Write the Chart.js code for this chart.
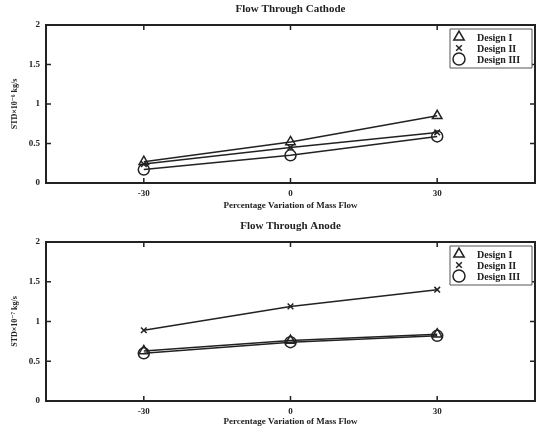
<!DOCTYPE html>
<html>
<head>
<meta charset="utf-8">
<script src="https://cdn.jsdelivr.net/npm/chart.js@4/dist/chart.umd.min.js"></script>
<style>
  html, body { margin: 0; padding: 0; background: #fff; overflow: hidden; }
  canvas { display: block; }
</style>
</head>
<body>
<canvas id="cathode" width="537" height="215"></canvas>
<canvas id="anode" width="537" height="215"></canvas>
<script>
// data
const variation = [-30, 0, 30];
const seriesNames = ["Design I", "Design II", "Design III"];
const markerStyles = ["triangle", "crossRot", "circle"];

const cathodeI = [0.27, 0.52, 0.85];
const cathodeII = [0.24, 0.45, 0.64];
const cathodeIII = [0.17, 0.35, 0.59];

const anodeI = [0.63, 0.76, 0.84];
const anodeII = [0.89, 1.19, 1.40];
const anodeIII = [0.60, 0.74, 0.82];

const yTicks = [0, 0.5, 1, 1.5, 2];

const FONT = "'Liberation Serif', 'DejaVu Serif', serif";

// frame, inward ticks, title and boxed legend (matlab look)
const framePlugin = {
  id: "frame",
  afterDraw(chart, args, opts) {
    const ctx = chart.ctx;
    const a = chart.chartArea;
    const xs = chart.scales.x, ys = chart.scales.y;
    ctx.save();
    ctx.strokeStyle = "#222";
    ctx.lineWidth = 2;
    ctx.strokeRect(a.left, a.top, a.right - a.left, a.bottom - a.top);
    ctx.lineWidth = 1.5;
    ctx.beginPath();
    variation.forEach(v => {
      const px = xs.getPixelForValue(v);
      ctx.moveTo(px, a.bottom); ctx.lineTo(px, a.bottom - 5);
      ctx.moveTo(px, a.top); ctx.lineTo(px, a.top + 5);
    });
    yTicks.forEach(v => {
      const py = ys.getPixelForValue(v);
      ctx.moveTo(a.left, py); ctx.lineTo(a.left + 5, py);
      ctx.moveTo(a.right, py); ctx.lineTo(a.right - 5, py);
    });
    ctx.stroke();

    // title
    ctx.fillStyle = "#222";
    ctx.font = "bold 11px " + FONT;
    ctx.textAlign = "center";
    ctx.textBaseline = "middle";
    ctx.fillText(opts.title, (a.left + a.right) / 2, opts.titleY);

    // legend box
    const lx = a.right - 85, ly = a.top + 4;
    ctx.lineWidth = 1;
    ctx.strokeStyle = "#555";
    ctx.fillStyle = "#fff";
    ctx.beginPath();
    ctx.rect(lx, ly, 82, 39);
    ctx.fill();
    ctx.stroke();
    ctx.strokeStyle = "#222";
    ctx.lineWidth = 1.5;
    chart.data.datasets.forEach((ds, i) => {
      const cy = ly + 8 + i * 11;
      ctx.fillStyle = "#fff";
      Chart.helpers.drawPoint(ctx, {
        pointStyle: ds.pointStyle,
        radius: ds.pointStyle === "crossRot" ? 4 : 6,
        borderWidth: 1.5
      }, lx + 9, cy);
      ctx.fillStyle = "#222";
      ctx.font = "bold 10px " + FONT;
      ctx.textAlign = "left";
      ctx.fillText(ds.label, lx + 27, cy + 1);
    });
    ctx.restore();
  }
};

function makeChart(id, values, title, titleY, yTitle, xHeight, padBottom) {
  const datasets = values.map((vals, i) => ({
    label: seriesNames[i],
    data: variation.map((x, j) => ({ x: x, y: vals[j] })),
    showLine: true,
    borderColor: "#222",
    backgroundColor: "rgba(0,0,0,0)",
    borderWidth: 1.5,
    pointStyle: markerStyles[i],
    pointRadius: markerStyles[i] === "crossRot" ? 4 : 5.5,
    pointBorderWidth: 1.5,
    pointBorderColor: "#222",
    pointBackgroundColor: "rgba(0,0,0,0)"
  }));

  return new Chart(document.getElementById(id), {
    type: "scatter",
    data: { datasets: datasets },
    plugins: [framePlugin],
    options: {
      responsive: false,
      animation: false,
      layout: {
        autoPadding: false,
        padding: { top: titleY + 16, right: 2, left: 0, bottom: padBottom }
      },
      plugins: {
        legend: { display: false },
        tooltip: { enabled: false },
        frame: { title: title, titleY: titleY }
      },
      scales: {
        x: {
          type: "linear",
          min: -50, max: 50,
          afterBuildTicks: s => { s.ticks = variation.map(v => ({ value: v })); },
          grid: { display: false, drawTicks: false, tickLength: 0 },
          border: { display: false },
          ticks: {
            color: "#222", padding: 5,
            font: { family: FONT, size: 9, weight: "bold" }
          },
          title: {
            display: true, text: "Percentage Variation of Mass Flow",
            color: "#222", padding: { top: 0, bottom: 0 },
            font: { family: FONT, size: 9, weight: "bold" }
          },
          afterFit: s => { s.height = xHeight; }
        },
        y: {
          min: 0, max: 2,
          afterBuildTicks: s => { s.ticks = yTicks.map(v => ({ value: v })); },
          grid: { display: false, drawTicks: false, tickLength: 0 },
          border: { display: false },
          ticks: {
            color: "#222", padding: 6,
            font: { family: FONT, size: 9, weight: "bold" },
            callback: v => String(v)
          },
          title: {
            display: true, text: yTitle,
            color: "#222", padding: { top: 10, bottom: 0 },
            font: { family: FONT, size: 8, weight: "bold" }
          },
          afterFit: s => { s.width = 46; }
        }
      }
    }
  });
}

makeChart("cathode", [cathodeI, cathodeII, cathodeIII],
  "Flow Through Cathode", 9, "STD×10\u207B\u2076 kg/s", 28, 4);
makeChart("anode", [anodeI, anodeII, anodeIII],
  "Flow Through Anode", 11, "STD×10\u207B\u2077 kg/s", 26, 3);
</script>
</body>
</html>
